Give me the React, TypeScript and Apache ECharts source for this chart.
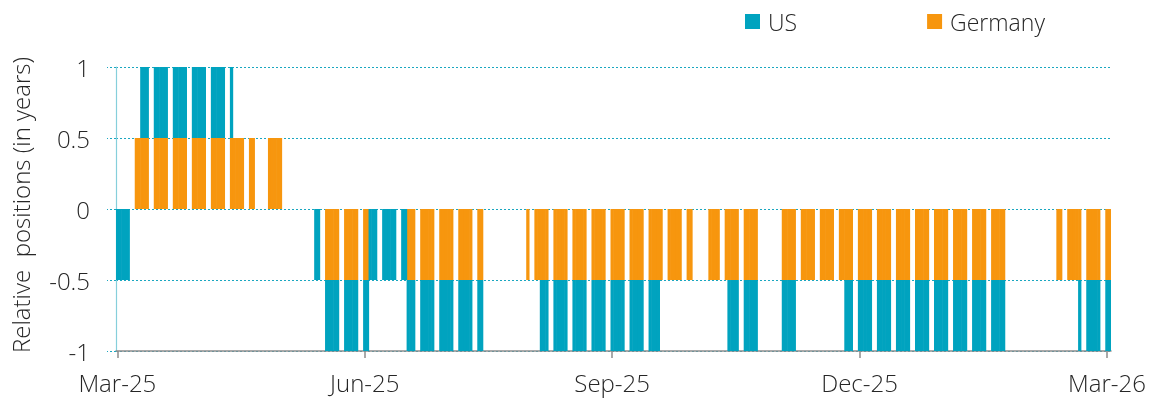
import React, { useEffect, useRef } from "react";
import * as echarts from "echarts";

// First and last day shown on the date axis
const firstDay = "2025-03-03";
const lastDay = "2026-03-03";

// Positions held over runs of business days: [from, to, value in years]
const usRuns: [string, string, number][] = [
  ["2025-03-03", "2025-03-07", -0.5],
  ["2025-03-12", "2025-04-14", 0.5],
  ["2025-05-15", "2025-07-15", -0.5],
  ["2025-08-06", "2025-09-18", -0.5],
  ["2025-10-14", "2025-10-24", -0.5],
  ["2025-11-03", "2025-11-07", -0.5],
  ["2025-11-26", "2026-01-23", -0.5],
  ["2026-02-20", "2026-03-03", -0.5],
];

const germanyRuns: [string, string, number][] = [
  ["2025-03-10", "2025-04-22", 0.5],
  ["2025-04-28", "2025-05-02", 0.5],
  ["2025-05-19", "2025-06-03", -0.5],
  ["2025-06-18", "2025-07-15", -0.5],
  ["2025-08-01", "2025-09-30", -0.5],
  ["2025-10-07", "2025-10-24", -0.5],
  ["2025-11-03", "2026-01-23", -0.5],
  ["2026-02-12", "2026-03-03", -0.5],
];

const tickDates = ["2025-03-03", "2025-06-02", "2025-09-01", "2025-12-01", "2026-03-02"];
const tickLabels = ["Mar-25", "Jun-25", "Sep-25", "Dec-25", "Mar-26"];

const seriesNames = ["US", "Germany"];
const colors = { US: "#00A3BF", Germany: "#F7960E" };

const FONT = "'Open Sans', 'Noto Sans', sans-serif";
const TEXT = "#262626";

function ymd(s: string): [number, number, number] {
  const [y, m, d] = s.split("-").map(Number);
  return [y, m - 1, d];
}
function fmt(dt: Date): string {
  const p = (n: number) => String(n).padStart(2, "0");
  return `${dt.getFullYear()}-${p(dt.getMonth() + 1)}-${p(dt.getDate())}`;
}

// every calendar day on the axis
function calendarDays(): string[] {
  const out: string[] = [];
  const [y, m, d] = ymd(firstDay);
  for (let i = 0; ; i++) {
    const s = fmt(new Date(y, m, d + i, 12));
    out.push(s);
    if (s === lastDay) break;
  }
  return out;
}

function isWeekend(s: string): boolean {
  const [y, m, d] = ymd(s);
  const wd = new Date(y, m, d, 12).getDay();
  return wd === 0 || wd === 6;
}

function expand(runs: [string, string, number][], days: string[]) {
  return days.map((s) => {
    if (isWeekend(s)) return null;
    const r = runs.find(([a, b]) => s >= a && s <= b);
    return r ? r[2] : null;
  });
}

export default function App() {
  const ref = useRef<HTMLDivElement>(null);
  useEffect(() => {
    if (!ref.current) return;
    const chart = echarts.init(ref.current, undefined, { renderer: "svg" });
    const days = calendarDays();
    const isTick = (_i: number, v: string) => tickDates.indexOf(v) >= 0;
    chart.setOption({
      animation: false,
      textStyle: { fontFamily: FONT, fontWeight: 300 },
      legend: {
        data: seriesNames,
        left: 740,
        top: 5,
        icon: "rect",
        itemWidth: 15,
        itemHeight: 15,
        itemGap: 130,
        textStyle: { fontSize: 23, color: TEXT, fontFamily: FONT, fontWeight: 300, padding: [0, 0, 0, 3] },
      },
      grid: { left: 116, right: 47, top: 67, bottom: 52, outerBoundsMode: "none" },
      xAxis: {
        type: "category",
        data: days,
        boundaryGap: true,
        axisLine: { onZero: false, lineStyle: { color: "#8c8c8c", width: 1.5 } },
        axisTick: { show: true, alignWithLabel: true, interval: isTick, length: 7, lineStyle: { color: "#8c8c8c", width: 1.5 } },
        axisLabel: {
          interval: isTick,
          formatter: (v: string) => {
            const i = tickDates.indexOf(v);
            return i >= 0 ? tickLabels[i] : "";
          },
          fontSize: 24,
          color: TEXT,
          fontFamily: FONT,
          fontWeight: 300,
          margin: 19,
        },
        splitLine: { show: false },
      },
      yAxis: {
        type: "value",
        min: -1,
        max: 1,
        interval: 0.5,
        name: "Relative  positions (in years)",
        nameLocation: "middle",
        nameGap: 84,
        nameTextStyle: { fontSize: 24, color: TEXT, fontFamily: FONT, fontWeight: 300, padding: [0, 0, 0, 8] },
        axisLine: { show: true, lineStyle: { color: "#86cfdb", width: 1.2 } },
        axisTick: { show: true, length: 9, lineStyle: { color: "#1aa7c0", type: [2, 2] } },
        axisLabel: { fontSize: 24, color: TEXT, fontFamily: FONT, fontWeight: 300, margin: 26 },
        splitLine: { show: true, lineStyle: { color: "#1aa7c0", width: 1, type: [2, 2] } },
      },
      series: [
        {
          name: "Germany",
          type: "bar",
          stack: "pos",
          barWidth: 3.3,
          itemStyle: { color: colors.Germany },
          data: expand(germanyRuns, days),
        },
        {
          name: "US",
          type: "bar",
          stack: "pos",
          barWidth: 3.3,
          itemStyle: { color: colors.US },
          data: expand(usRuns, days),
        },
      ],
    });
    return () => chart.dispose();
  }, []);
  return <div ref={ref} style={{ position: "fixed", left: 0, top: 0, width: 1158, height: 403 }} />;
}
